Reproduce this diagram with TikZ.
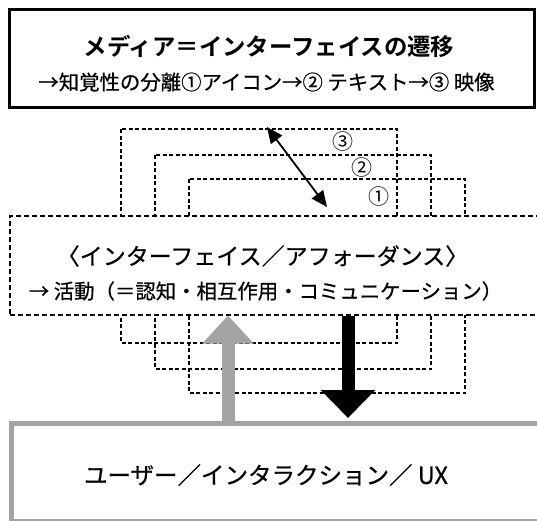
\documentclass[tikz,border=0pt]{standalone}
\usepackage{fontspec}
\usetikzlibrary{arrows.meta}
\newfontfamily\jp[FakeBold=0.6]{Noto Sans CJK JP}
\newfontfamily\jpc{Noto Sans CJK JP}
\newfontfamily\jpb{Noto Sans CJK JP Bold}
\tikzset{
  frame/.style={draw=black, line width=1.1pt, dash pattern=on 4pt off 2.5pt},
  txt/.style={inner sep=0pt, anchor=center},
  circ/.style={inner sep=0pt, font=\jpc\fontsize{21}{23}\selectfont},
}
\begin{document}
\begin{tikzpicture}[x=1pt, y=-1pt]
\useasboundingbox (0,0) rectangle (537,520);
% stacked dashed frames
\draw[frame] (121,129) rectangle (397,343);
\draw[frame] (155,155) rectangle (431,369);
\draw[frame] (189,179) rectangle (465,393);
% main box
\node[draw, fill=white, line width=1.6pt, dash pattern=on 5pt off 3pt,
      minimum width=560pt, minimum height=99pt, anchor=north west, inner sep=0pt] (mid) at (9,215) {};
% top box
\node[draw, line width=3pt, minimum width=525pt, minimum height=98pt, inner sep=0pt] (top) at (271.5,58.5) {};
% bottom box
\node[draw=black!36, line width=5pt, minimum width=540pt, minimum height=98pt, anchor=north west, inner sep=0pt] (bot) at (9,421) {};
% texts
\node[txt, font=\jpb\fontsize{23.4}{26}\selectfont] (t1) at (269,46) {メディア＝インターフェイスの遷移};
\node[txt, font=\jp\fontsize{20.4}{24}\selectfont] (t2) at (266.5,82) {→知覚性の分離①アイコン→② テキスト→③ 映像};
\node[txt, font=\jp\fontsize{23}{26}\selectfont] (m1) at (262.5,256) {〈インターフェイス／アフォーダンス〉};
\node[txt, font=\jp\fontsize{20.4}{24}\selectfont] (m2) at (265.5,291) {→ 活動（＝認知・相互作用・コミュニケーション）};
\node[txt, font=\jp\fontsize{23.5}{26}\selectfont] (b1) at (266,475) {ユーザー／インタラクション／ UX};
% circled numbers
\node[circ] (n3) at (343,142) {③};
\node[circ] (n2) at (362,168) {②};
\node[circ] (n1) at (379,197) {①};
% double arrow
\coordinate (da) at (267,127);
\coordinate (db) at (327,207);
\draw[line width=1.8pt, {Triangle[length=16pt,width=14pt]}-{Triangle[length=16pt,width=14pt]}] (da) -- (db);
% gray up arrow
\draw[draw=black!36, line width=13pt, -{Triangle[length=28pt,width=50pt]}] (bot.north -| 228,0) -- (mid.south -| 228,0);
% black down arrow
\coordinate (btip) at (348,418);
\draw[line width=13pt, -{Triangle[length=28pt,width=53pt]}] (mid.south -| 348,0) -- (btip);
\end{tikzpicture}
\end{document}
